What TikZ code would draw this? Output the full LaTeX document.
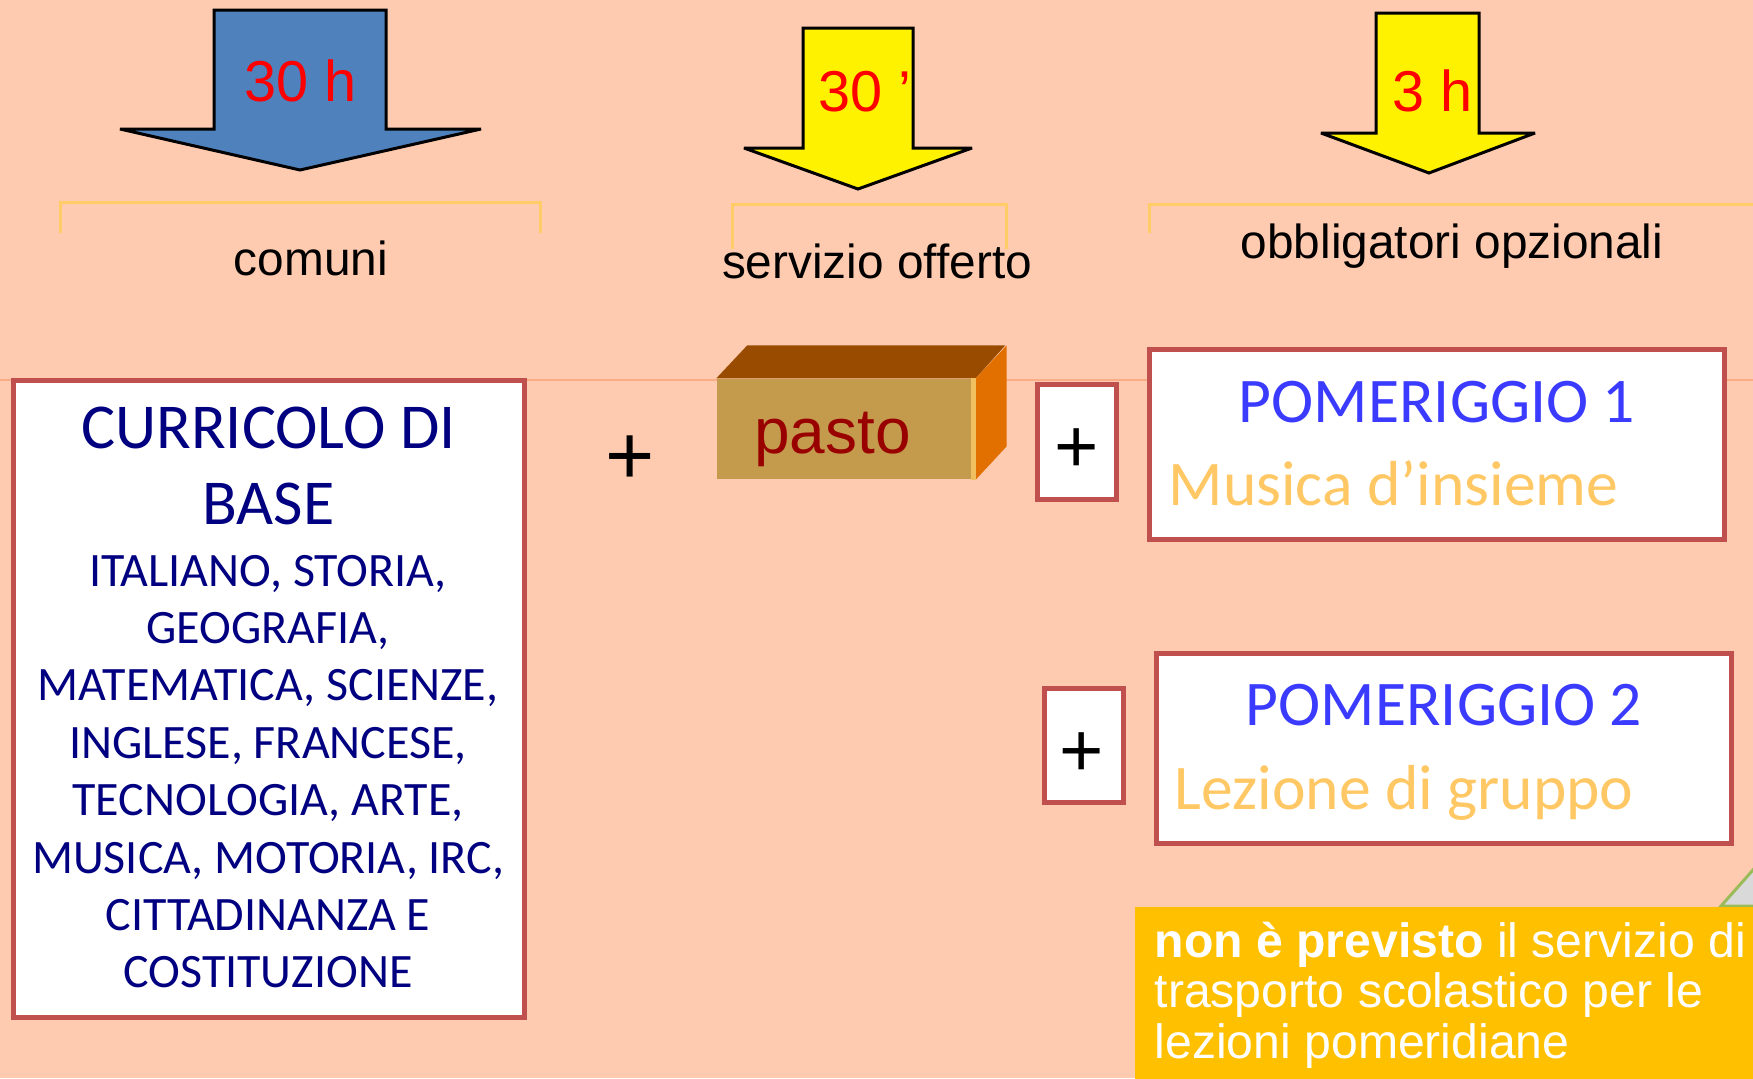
\documentclass[tikz,border=0pt]{standalone}
\usepackage{fontspec}
\setmainfont{Liberation Sans}
\newfontfamily\calibri{Carlito}
\usepackage{tikz}
\usetikzlibrary{calc}
\usepackage{xcolor}
\definecolor{peach}{RGB}{255,203,176}
\definecolor{peachline}{RGB}{250,172,135}
\definecolor{steelblue}{RGB}{79,129,189}
\definecolor{bracketyellow}{RGB}{255,204,102}
\definecolor{boxred}{RGB}{192,80,77}
\definecolor{navy}{RGB}{0,0,128}
\definecolor{pomblue}{RGB}{59,59,255}
\definecolor{lightorange}{RGB}{255,200,100}
\definecolor{pastofront}{RGB}{196,154,76}
\definecolor{pastotop}{RGB}{153,76,0}
\definecolor{pastoside}{RGB}{226,112,0}
\definecolor{pastoedge}{RGB}{240,192,96}
\definecolor{pastored}{RGB}{153,0,0}
\definecolor{notegold}{RGB}{255,192,0}
\definecolor{cornergreen}{RGB}{155,187,89}

\begin{document}
\begin{tikzpicture}[x=0.1mm, y=-0.1mm,
        hours/.style={anchor=base, inner sep=0, text=red, font=\fontsize{16.4}{19}\selectfont},
        blockarrow/.style={draw=black, line width=0.3mm, line join=miter, miter limit=2},
        bracket/.style={draw=bracketyellow, line width=0.3mm},
        caption/.style={anchor=base, inner sep=0, font=\fontsize{13.6}{16}\selectfont},
        panel/.style={rectangle, draw=boxred, line width=0.5mm, fill=white, inner sep=0},
        curtitle/.style={anchor=base, inner sep=0, text=navy, font=\calibri\fontsize{18.2}{21}\selectfont},
        subject/.style={anchor=base, inner sep=0, text=navy, font=\calibri\fontsize{13.65}{16}\selectfont},
        pomtitle/.style={anchor=base, inner sep=0, text=pomblue, font=\calibri\fontsize{18.1}{21}\selectfont},
        course/.style={anchor=base west, inner sep=0, text=lightorange, font=\calibri\fontsize{18.1}{21}\selectfont},
        plussign/.style={inner sep=0, font=\fontsize{21.6}{24}\selectfont},
        pastobox/.style={rectangle, fill=pastofront, inner sep=0},
        notetext/.style={anchor=base west, inner sep=0, text=white, font=\fontsize{13.7}{16}\selectfont},
        ]
        \useasboundingbox (0,0) rectangle (1753,1078);
        \fill[peach] (0,0) rectangle (1753,1078);
        \draw[peachline, line width=0.15mm] (0,380) -- (1753,380);

        % block arrows
        \filldraw[blockarrow, fill=steelblue] (214,10) -- (386,10) -- (386,129) -- (481,129)
            -- (300,170) -- (120,129) -- (214,129) -- cycle;
        \filldraw[blockarrow, fill=yellow] (803,28) -- (913,28) -- (913,148) -- (972,148)
            -- (858,189) -- (744,148) -- (803,148) -- cycle;
        \filldraw[blockarrow, fill=yellow] (1376,13) -- (1479,13) -- (1479,133) -- (1535,133)
            -- (1429,173) -- (1321,133) -- (1376,133) -- cycle;
        \node (h30) at (300.5,101.7) [hours] {30 h};
        \node (min30) at (864.5,111) [hours] {30 ’};
        \node (h3) at (1433,111) [hours] {3 h};

        \draw[bracket] (60,233) -- (60,202) -- (540,202) -- (540,233);
        \draw[bracket] (732,249) -- (732,204) -- (1006,204) -- (1006,249);
        \draw[bracket] (1149,233) -- (1149,204) -- (1753,204);
        \node (comuni) at (311,275) [caption] {comuni};
        \node (servizio) at (877,278) [caption] {servizio offerto};
        \node (opzionali) at (1452,258) [caption] {obbligatori opzionali};

        % curricolo
        \node (curricolo) at (268.75,698.75) [panel, minimum width=51.15mm, minimum height=63.75mm] {};
        \node (title1) at (268.5,448) [curtitle] {CURRICOLO DI};
        \node (title2) at (268.5,524) [curtitle] {BASE};
        \foreach \txt [count=\i] in {{ITALIANO, STORIA,}, {GEOGRAFIA,}, {MATEMATICA, SCIENZE,},
            {INGLESE, FRANCESE,}, {TECNOLOGIA, ARTE,}, {MUSICA, MOTORIA, IRC,},
            {CITTADINANZA E}, {COSTITUZIONE}}
            \node (subject\i) at (268,{586+57.4*(\i-1)}) [subject] {\txt};

        \node (plusmid) at (630.5,460.5) [plussign, font=\fontsize{24}{26}\selectfont] {+};

        % pasto
        \node (pasto) at (846,429) [pastobox, minimum width=25.8mm, minimum height=10mm] {};
        \fill[pastotop] (pasto.north west) -- ++(31,-33) -- ++(258,0) -- (pasto.north east) -- cycle;
        \fill[pastoside] (pasto.north east) -- ++(31,-33) -- ++(0,101) -- (pasto.south east) -- cycle;
        \fill[pastoedge] ([xshift=-0.5mm]pasto.north east) rectangle (pasto.south east);
        \node (pastolabel) at (832.5,453) [anchor=base, inner sep=0, text=pastored,
            font=\fontsize{18.2}{21}\selectfont] {pasto};

        % pomeriggi
        \node (plus1) at (1077,441.5) [panel, minimum width=7.9mm, minimum height=11.5mm] {};
        \node (plus1sign) at (1076.7,450.4) [plussign] {+};
        \node (pom1) at (1437,444.5) [panel, minimum width=57.5mm, minimum height=19mm] {};
        \node (pom1title) at (1437,422) [pomtitle] {POMERIGGIO 1};
        \node (pom1course) at (1168,505.7) [course] {Musica d’insieme};

        \node (plus2) at (1083.5,745.5) [panel, minimum width=7.9mm, minimum height=11.4mm] {};
        \node (plus2sign) at (1082,754.4) [plussign] {+};
        \node (pom2) at (1443.75,748.25) [panel, minimum width=57.55mm, minimum height=18.95mm] {};
        \node (pom2title) at (1444,725) [pomtitle] {POMERIGGIO 2};
        \node (pom2course) at (1174,809) [course] {Lezione di gruppo};

        % note
        \filldraw[fill=black!15, draw=cornergreen, line width=0.3mm] (1721,906) -- (1760,862) -- (1760,906) -- cycle;
        \node (note) at (1134,906) [anchor=north west, fill=notegold, inner sep=0,
            minimum width=62mm, minimum height=17.5mm] {};
        \foreach \txt [count=\i] in {{{\bfseries non è previsto} il servizio di},
            {trasporto scolastico per le}, {lezioni pomeridiane}}
            \node (note\i) at (1154,{957+50.9*(\i-1)}) [notetext] {\txt};
    \end{tikzpicture}
\end{document}
